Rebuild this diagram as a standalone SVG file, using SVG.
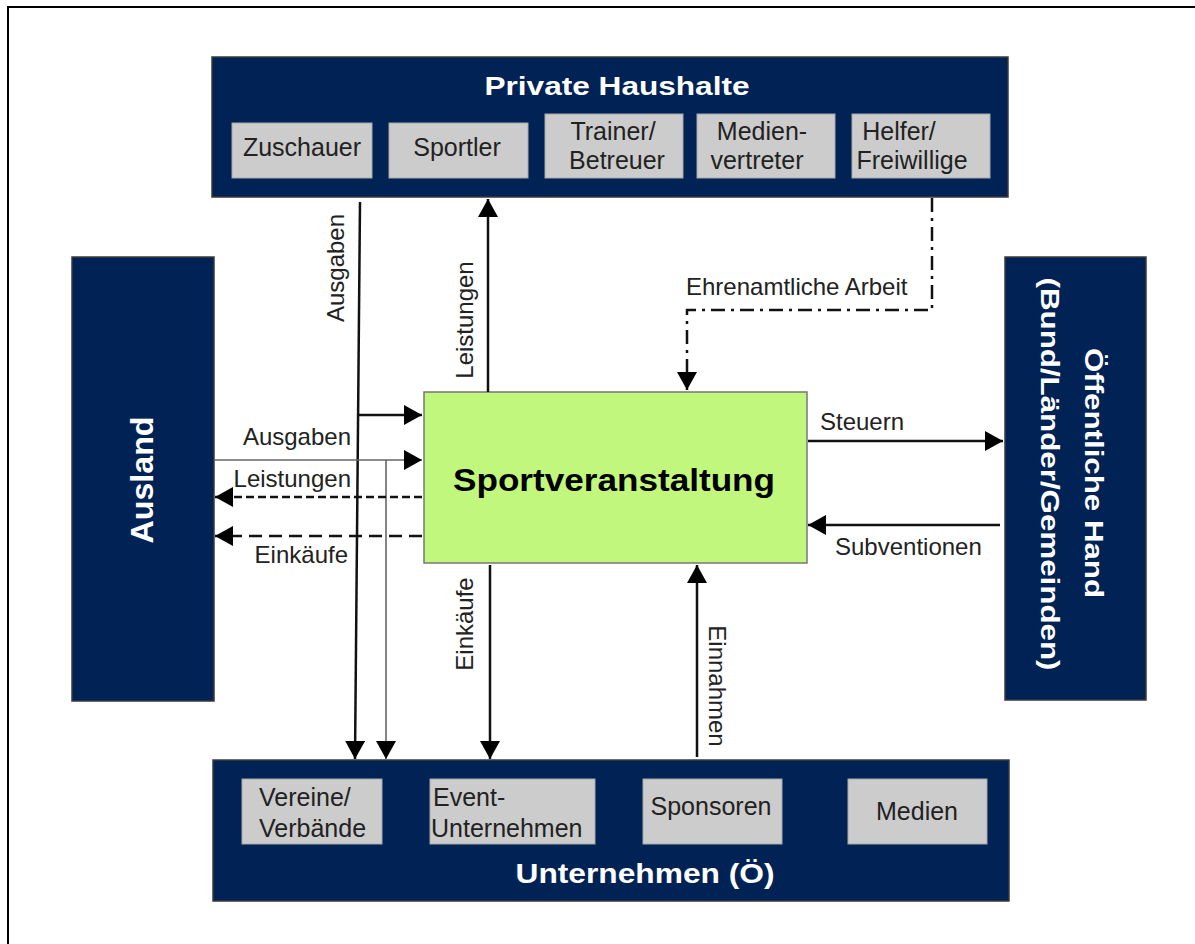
<svg xmlns="http://www.w3.org/2000/svg" width="1195" height="944" viewBox="0 0 1195 944">
<style>
.navy{fill:#002255;stroke:#3a3a3a;stroke-width:1.5}
.sub{fill:#cccccc;stroke:#a8a8a8;stroke-width:1}
.title{font-family:"Liberation Sans",Arial,sans-serif;font-weight:bold;fill:#ffffff}
.bt{font-family:"Liberation Sans",Arial,sans-serif;font-size:25px;fill:#222222}
.lb{font-family:"Liberation Sans",Arial,sans-serif;font-size:24px;fill:#222222}
.ln{fill:none;stroke:#111111;stroke-width:2.5}
.thin{fill:none;stroke:#666666;stroke-width:1.6}
</style>
<defs>
<marker id="arr" viewBox="0 0 18 20" refX="18" refY="10" markerWidth="18" markerHeight="20" markerUnits="userSpaceOnUse" orient="auto">
<path d="M0,0 L18,10 L0,20 z" fill="#000000"/>
</marker>
</defs>
<rect x="0" y="0" width="1195" height="944" fill="#ffffff"/>
<rect x="8" y="7" width="1200" height="960" fill="none" stroke="#000000" stroke-width="2"/>

<g id="private-haushalte">
<rect class="navy" x="212" y="57" width="796" height="140"/>
<text class="title" x="617" y="95" font-size="26" text-anchor="middle" textLength="265" lengthAdjust="spacingAndGlyphs">Private Haushalte</text>
<g id="zuschauer"><rect class="sub" x="232" y="123" width="140" height="55"/><text class="bt" x="302" y="156" text-anchor="middle">Zuschauer</text></g>
<g id="sportler"><rect class="sub" x="389" y="123" width="139" height="55"/><text class="bt" x="457" y="156" text-anchor="middle">Sportler</text></g>
<g id="trainer"><rect class="sub" x="545" y="114" width="138" height="64"/><text class="bt" x="613" y="140" text-anchor="middle">Trainer/</text><text class="bt" x="617" y="169" text-anchor="middle">Betreuer</text></g>
<g id="medienvertreter"><rect class="sub" x="697" y="114" width="138" height="64"/><text class="bt" x="762" y="140" text-anchor="middle">Medien-</text><text class="bt" x="757" y="169" text-anchor="middle">vertreter</text></g>
<g id="helfer"><rect class="sub" x="852" y="114" width="138" height="64"/><text class="bt" x="899" y="140" text-anchor="middle">Helfer/</text><text class="bt" x="912" y="169" text-anchor="middle">Freiwillige</text></g>
</g>

<g id="ausland">
<rect class="navy" x="72" y="257" width="142" height="444"/>
<text class="title" transform="translate(153,480) rotate(-90)" font-size="31" text-anchor="middle" textLength="127" lengthAdjust="spacingAndGlyphs">Ausland</text>
</g>

<g id="oeffentliche-hand">
<rect class="navy" x="1005" y="257" width="141" height="443"/>
<text class="title" transform="translate(1085,473) rotate(90)" font-size="26" text-anchor="middle" textLength="250" lengthAdjust="spacingAndGlyphs">Öffentliche Hand</text>
<text class="title" transform="translate(1041,474) rotate(90)" font-size="26" text-anchor="middle" textLength="393" lengthAdjust="spacingAndGlyphs">(Bund/Länder/Gemeinden)</text>
</g>

<g id="sportveranstaltung">
<rect x="424" y="392" width="383" height="171" fill="#c1f77c" stroke="#777777" stroke-width="1.5"/>
<text x="614" y="491" font-family="Liberation Sans,Arial,sans-serif" font-weight="bold" font-size="31" fill="#000000" text-anchor="middle" textLength="322" lengthAdjust="spacingAndGlyphs">Sportveranstaltung</text>
</g>

<g id="unternehmen">
<rect class="navy" x="213" y="760" width="796" height="141"/>
<text class="title" x="645" y="883" font-size="27" text-anchor="middle" textLength="259" lengthAdjust="spacingAndGlyphs">Unternehmen (Ö)</text>
<g id="vereine"><rect class="sub" x="242" y="779" width="140" height="65"/><text class="bt" x="259" y="806">Vereine/</text><text class="bt" x="259" y="837">Verbände</text></g>
<g id="event"><rect class="sub" x="430" y="779" width="165" height="65"/><text class="bt" x="433" y="806">Event-</text><text class="bt" x="431" y="837">Unternehmen</text></g>
<g id="sponsoren"><rect class="sub" x="643" y="779" width="139" height="65"/><text class="bt" x="711" y="815" text-anchor="middle">Sponsoren</text></g>
<g id="medien"><rect class="sub" x="848" y="779" width="139" height="65"/><text class="bt" x="917" y="820" text-anchor="middle">Medien</text></g>
</g>

<g id="connectors">
<path class="ln" d="M360,202 L355,759" marker-end="url(#arr)"/>
<path class="ln" d="M358,415 L422,415" marker-end="url(#arr)"/>
<path class="ln" d="M488,392 L488,199" marker-end="url(#arr)"/>
<path class="thin" d="M214,460 L422,460" marker-end="url(#arr)"/>
<path class="thin" d="M386,460 L386,759" marker-end="url(#arr)"/>
<path class="ln" d="M422,497 L215,497" stroke-dasharray="8,4" marker-end="url(#arr)"/>
<path class="ln" d="M422,536 L215,536" stroke-dasharray="13,7" marker-end="url(#arr)"/>
<path class="ln" d="M490,565 L490,759" marker-end="url(#arr)"/>
<path class="ln" d="M697,757 L697,565" marker-end="url(#arr)"/>
<path class="ln" d="M808,441 L1003,441" marker-end="url(#arr)"/>
<path class="ln" d="M1000,525 L808,525" marker-end="url(#arr)"/>
<path class="ln" d="M932,198 L932,310 L687,310 L687,390" stroke-dasharray="14,6,3,6" marker-end="url(#arr)"/>

<text class="lb" transform="translate(344,268) rotate(-90)" text-anchor="middle">Ausgaben</text>
<text class="lb" transform="translate(473,320) rotate(-90)" text-anchor="middle">Leistungen</text>
<text class="lb" x="351" y="445" text-anchor="end">Ausgaben</text>
<text class="lb" x="351" y="487" text-anchor="end">Leistungen</text>
<text class="lb" x="348" y="563" text-anchor="end">Einkäufe</text>
<text class="lb" transform="translate(473,624) rotate(-90)" text-anchor="middle">Einkäufe</text>
<text class="lb" transform="translate(709,686) rotate(90)" text-anchor="middle">Einnahmen</text>
<text class="lb" x="820" y="430" font-size="25">Steuern</text>
<text class="lb" x="835" y="555" font-size="25">Subventionen</text>
<text class="lb" x="686" y="295" font-size="25">Ehrenamtliche Arbeit</text>
</g>
</svg>
